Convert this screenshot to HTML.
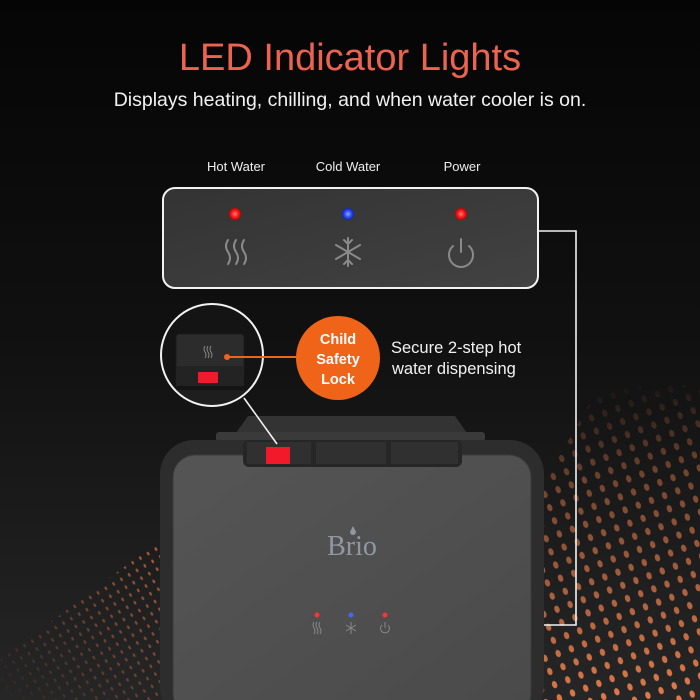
<!DOCTYPE html>
<html><head><style>
html,body{margin:0;padding:0;}
body{width:700px;height:700px;overflow:hidden;background:#0b0b0b;font-family:"Liberation Sans",sans-serif;position:relative;}
.abs{position:absolute;}
</style></head><body>
<svg class="abs" style="left:0;top:0" width="700" height="700" viewBox="0 0 700 700">
<defs>
<linearGradient id="bg" x1="0" y1="0" x2="0" y2="1">
<stop offset="0" stop-color="#050505"/><stop offset="0.5" stop-color="#111"/><stop offset="1" stop-color="#262626"/>
</linearGradient>
<pattern id="dots" width="14" height="14" patternUnits="userSpaceOnUse" patternTransform="rotate(-20)">
<ellipse cx="7" cy="7" rx="2.6" ry="3.8" fill="#e07a4a"/>
</pattern>
<pattern id="dots2" width="9" height="9" patternUnits="userSpaceOnUse" patternTransform="rotate(-30)">
<ellipse cx="4.5" cy="4.5" rx="1.2" ry="2" fill="#d86e40"/>
</pattern>
<linearGradient id="mk" gradientUnits="userSpaceOnUse" x1="600" y1="385" x2="640" y2="700">
<stop offset="0" stop-color="#fff" stop-opacity="0"/><stop offset="0.3" stop-color="#fff" stop-opacity="0.45"/><stop offset="1" stop-color="#fff" stop-opacity="1"/>
</linearGradient>
<linearGradient id="mkx" gradientUnits="userSpaceOnUse" x1="470" y1="0" x2="580" y2="0">
<stop offset="0" stop-color="#000"/><stop offset="1" stop-color="#fff"/>
</linearGradient>
<mask id="m1"><rect x="0" y="380" width="700" height="320" fill="url(#mk)"/></mask>
<linearGradient id="mk2" x1="1" y1="0" x2="0" y2="1">
<stop offset="0" stop-color="#fff" stop-opacity="0.8"/><stop offset="1" stop-color="#fff" stop-opacity="0"/>
</linearGradient>
<mask id="m2"><polygon points="0,700 0,660 160,540 160,700" fill="url(#mk2)"/></mask>
<linearGradient id="panel" x1="0" y1="0" x2="1" y2="1">
<stop offset="0" stop-color="#333"/><stop offset="1" stop-color="#424242"/>
</linearGradient>
<linearGradient id="face" x1="0" y1="0" x2="1" y2="1">
<stop offset="0" stop-color="#555"/><stop offset="1" stop-color="#4a4a4a"/>
</linearGradient>
<radialGradient id="red"><stop offset="0" stop-color="#ff8080"/><stop offset="0.5" stop-color="#f22"/><stop offset="1" stop-color="#b00"/></radialGradient>
<radialGradient id="blue"><stop offset="0" stop-color="#9af"/><stop offset="0.5" stop-color="#35f"/><stop offset="1" stop-color="#12a"/></radialGradient>
<clipPath id="cc"><circle cx="212" cy="355" r="51"/></clipPath>
</defs>
<rect width="700" height="700" fill="url(#bg)"/>
<polygon points="500,700 700,700 700,385 600,385 500,560" fill="url(#dots)" mask="url(#m1)"/>
<rect x="0" y="520" width="160" height="180" fill="url(#dots2)" mask="url(#m2)"/>

<!-- panel -->
<rect x="163" y="188" width="375" height="100" rx="12" fill="url(#panel)" stroke="#f2f2f2" stroke-width="2"/>
<circle cx="235" cy="214" r="6" fill="url(#red)"/>
<circle cx="348" cy="214" r="6" fill="url(#blue)"/>
<circle cx="461" cy="214" r="6" fill="url(#red)"/>
<g stroke="#8a8a8a" stroke-width="2" fill="none" stroke-linecap="round">
<path d="M228,240 q-4,6 0,12 q4,6 0,12"/><path d="M236,240 q-4,6 0,12 q4,6 0,12"/><path d="M244,240 q-4,6 0,12 q4,6 0,12"/>
<path d="M348,238v28M336,245l24,14M336,259l24,-14M344,240l4,4l4,-4M344,264l4,-4l4,4"/>
<path d="M453,246 a12,12 0 1 0 16,0"/><path d="M461,239v13"/>
</g>
<!-- connector -->
<polyline points="538,231 576,231 576,625 492,625" fill="none" stroke="#f2f2f2" stroke-width="1.6"/>

<!-- device -->
<path d="M236,433 L248,416 L455,416 L467,433 Z" fill="#333"/>
<rect x="216" y="432" width="269" height="10" rx="3" fill="#3a3a3a"/>
<rect x="160" y="440" width="384" height="280" rx="34" fill="#2d2d2d"/>
<rect x="173" y="455" width="358" height="260" rx="22" fill="url(#face)" stroke="#3a3a3a" stroke-width="1"/>
<rect x="243" y="440" width="219" height="27" rx="6" fill="#262626"/>
<rect x="247" y="442" width="64" height="22" fill="#303030"/>
<rect x="316" y="442" width="70" height="22" fill="#303030"/>
<rect x="391" y="442" width="67" height="22" fill="#303030"/>
<rect x="266" y="447" width="24" height="17" fill="#f21a2a"/>
<text x="352" y="555" text-anchor="middle" font-family="Liberation Serif,serif" font-size="28" fill="#8f98a2">Brio</text>
<path d="M353,526 l-3,6 a3,3 0 1 0 6,0 z" fill="#8f98a2"/>
<circle cx="317" cy="615" r="2.5" fill="#f33"/>
<circle cx="351" cy="615" r="2.5" fill="#46f"/>
<circle cx="385" cy="615" r="2.5" fill="#f33"/>
<g stroke="#888" stroke-width="1" fill="none">
<path d="M314,622q-2,3 0,6q2,3 0,6M317,622q-2,3 0,6q2,3 0,6M320,622q-2,3 0,6q2,3 0,6"/>
<path d="M351,622v12M346,625l10,6M346,631l10,-6"/>
<path d="M382,625a4.5,4.5 0 1 0 6,0M385,622v6"/>
</g>

<!-- magnify circle -->
<circle cx="212" cy="355" r="51" fill="#141414"/>
<g clip-path="url(#cc)">
<rect x="150" y="390" width="140" height="30" fill="#1e1e1e"/>
<rect x="176" y="334" width="68" height="50" rx="3" fill="#2c2c2c" stroke="#1a1a1a"/>
<rect x="176" y="366" width="68" height="20" fill="#232323"/>
<rect x="198" y="372" width="20" height="11" fill="#f21a2a"/>
<g stroke="#888" stroke-width="1" fill="none"><path d="M205,346q-2,3 0,6q2,3 0,6M208,346q-2,3 0,6q2,3 0,6M211,346q-2,3 0,6q2,3 0,6"/></g>
</g>
<circle cx="212" cy="355" r="51" fill="none" stroke="#f2f2f2" stroke-width="2"/>
<line x1="244" y1="398" x2="277" y2="444" stroke="#f2f2f2" stroke-width="1.6"/>
<line x1="227" y1="357" x2="300" y2="357" stroke="#f0641a" stroke-width="2"/>
<circle cx="227" cy="357" r="3" fill="#f0641a"/>
<circle cx="338" cy="358" r="42" fill="#f0641a"/>
<g font-family="Liberation Sans,sans-serif" font-weight="bold" font-size="14.5" fill="#fff" text-anchor="middle">
<text x="338" y="344">Child</text><text x="338" y="364">Safety</text><text x="338" y="384">Lock</text>
</g>
<g font-family="Liberation Sans,sans-serif" font-size="16.5" fill="#f2f2f2">
<text x="391" y="353">Secure 2-step hot</text><text x="392" y="374">water dispensing</text>
</g>
<g font-family="Liberation Sans,sans-serif" font-size="13" fill="#eee" text-anchor="middle">
<text x="236" y="171">Hot Water</text><text x="348" y="171">Cold Water</text><text x="462" y="171">Power</text>
</g>
<text x="350" y="70" text-anchor="middle" font-family="Liberation Sans,sans-serif" font-size="38" fill="#ec6450">LED Indicator Lights</text>
<text x="350" y="106" text-anchor="middle" font-family="Liberation Sans,sans-serif" font-size="19.5" fill="#f2f2f2">Displays heating, chilling, and when water cooler is on.</text>
</svg>
</body></html>
